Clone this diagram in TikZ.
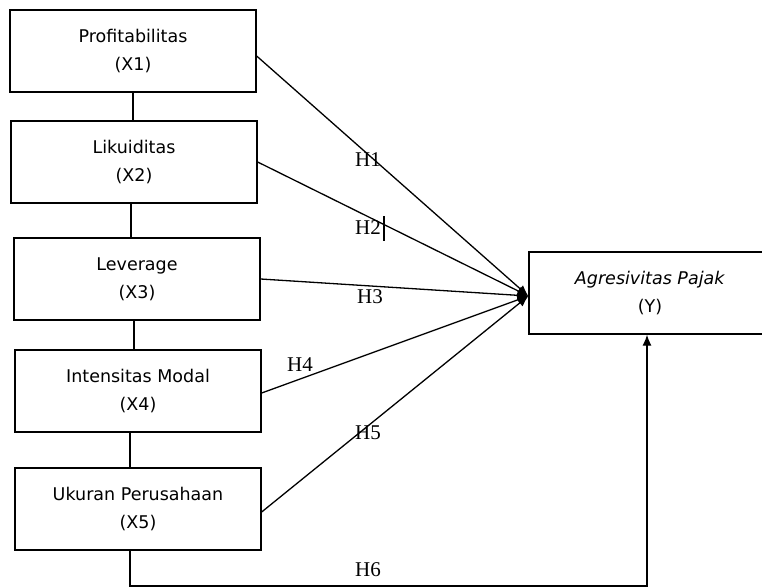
\documentclass[tikz,border=0pt]{standalone}
\usepackage{fontspec}
\setmainfont{DejaVu Sans}
\newfontfamily\hfont{Liberation Serif}
\usetikzlibrary{arrows.meta,calc}
\begin{document}
\begin{tikzpicture}[x=1pt,y=-1pt,
  varbox/.style={draw,line width=1.3pt,minimum width=246pt,minimum height=82pt,inner sep=0pt,align=center,font=\fontsize{17.5}{28}\selectfont},
  conn/.style={line width=1.3pt},
  hyp/.style={font=\hfont\fontsize{21}{21}\selectfont,inner sep=0pt},
  tip/.style={-{Latex[length=11pt,width=9pt]}}]
\useasboundingbox (0,0) rectangle (762,588);
\clip (0,0) rectangle (762,588);
\node[varbox] (b1) at (133,51) {Profitabilitas\\(X1)};
\node[varbox] (b2) at (134,162) {Likuiditas\\(X2)};
\node[varbox] (b3) at (137,279) {Leverage\\(X3)};
\node[varbox] (b4) at (138,391) {Intensitas Modal\\(X4)};
\node[varbox] (b5) at (138,509) {Ukuran Perusahaan\\(X5)};
\node[varbox,minimum width=242pt] (y) at (650,293) {\textit{Agresivitas Pajak}\\(Y)};
\coordinate (hub) at ($(y.west)+(0,3)$);
\coordinate (v1) at (133,0);
\coordinate (v2) at (131,0);
\coordinate (v3) at (134,0);
\coordinate (v4) at (130,0);
\coordinate (c1) at (130,586);
\coordinate (c2) at (647,586);
\draw[conn] (v1 |- b1.south) -- (v1 |- b2.north);
\draw[conn] (v2 |- b2.south) -- (v2 |- b3.north);
\draw[conn] (v3 |- b3.south) -- (v3 |- b4.north);
\draw[conn] (v4 |- b4.south) -- (v4 |- b5.north);
\draw[conn,tip] ($(b1.east)+(0,5)$) -- (hub);
\draw[conn,tip] (b2.east) -- (hub);
\draw[conn,tip] (b3.east) -- (hub);
\draw[conn,tip] ($(b4.east)+(0,2)$) -- (hub);
\draw[conn,tip] ($(b5.east)+(0,3)$) -- (hub);
\draw[conn,tip] (c1 |- b5.south) -- (c1) -- (c2) -- (c2 |- y.south);
\node[hyp] (h1) at (368,160) {H1};
\node[hyp] (h2) at (368,228) {H2};
\node[hyp] (h3) at (370,297) {H3};
\node[hyp] (h4) at (300,365) {H4};
\node[hyp] (h5) at (368,433) {H5};
\node[hyp] (h6) at (368,570) {H6};
\coordinate (k1) at (384,216);
\coordinate (k2) at (384,241);
\draw[line width=2pt] (k1) -- (k2);
\end{tikzpicture}
\end{document}
